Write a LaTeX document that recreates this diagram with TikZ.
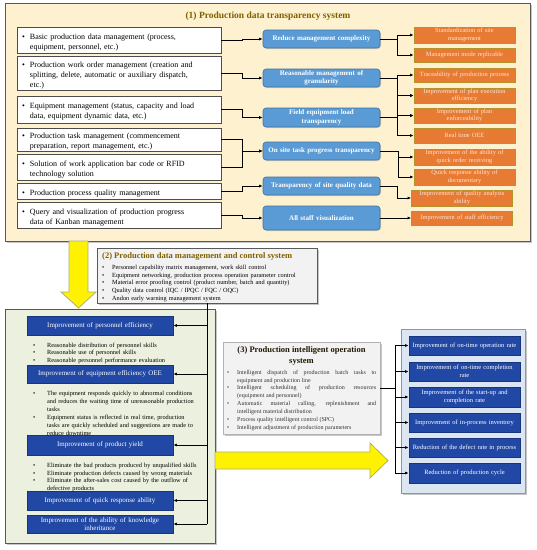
\documentclass[tikz,border=0pt]{standalone}
\usepackage{fontspec}
\setmainfont{Liberation Serif}
\usetikzlibrary{arrows.meta,shadows}
\definecolor{cream}{HTML}{FDF1D0}
\definecolor{titlebrown}{HTML}{7F6000}
\definecolor{midblue}{HTML}{5B9BD5}
\definecolor{midblueb}{HTML}{41719C}
\definecolor{orfill}{HTML}{E87B33}
\definecolor{orborder}{HTML}{B8902C}
\definecolor{ortext}{HTML}{FCE4D6}
\definecolor{greyfill}{HTML}{F2F2F2}
\definecolor{greenfill}{HTML}{EBF1DE}
\definecolor{darkblue}{HTML}{2148A4}
\definecolor{darkblueb}{HTML}{17357A}
\definecolor{paleblue}{HTML}{DCE6F2}
\definecolor{paleblueb}{HTML}{8497B0}
\definecolor{yelborder}{HTML}{A9B07A}
\definecolor{framegray}{HTML}{595959}
\newcommand{\myitem}[2]{\par\hangindent=#1\hangafter=1\noindent\makebox[#1][l]{\textbullet}#2\par}
\begin{document}
\begin{tikzpicture}[x=1pt,y=-1pt,
  >={Latex[length=3.5pt,width=3pt]},
  conn/.style={draw=black,line width=0.9pt},
  shad/.style={drop shadow={opacity=0.45,shadow xshift=2pt,shadow yshift=-2pt}},
  container/.style={draw=framegray,line width=0.9pt,inner sep=0pt,shad},
  itembox/.style={draw=gray!60!black,fill=white,line width=0.8pt,text width=194pt,inner xsep=5pt,inner ysep=0pt,align=left,font=\fontsize{8}{10}\selectfont},
  bluebox/.style={rounded corners=3pt,fill=midblue,draw=midblueb,line width=0.6pt,text=white,font=\fontsize{7}{8.5}\selectfont\bfseries,align=center,text width=110pt,inner xsep=3.5pt,inner ysep=0pt,drop shadow={opacity=0.3,shadow xshift=1pt,shadow yshift=-1pt}},
  orbox/.style={fill=orfill,draw=orborder,line width=0.7pt,text=ortext,font=\fontsize{6.4}{7.2}\selectfont,align=center,text width=97pt,inner xsep=2pt,inner ysep=0pt},
  dbox/.style={fill=darkblue,draw=darkblueb,line width=0.7pt,text=white,font=\fontsize{7}{8}\selectfont,align=center,text width=140pt,inner xsep=3pt,inner ysep=0pt,minimum height=19pt,drop shadow={opacity=0.3,shadow xshift=1pt,shadow yshift=-1pt}},
  rbox/.style={fill=darkblue,draw=darkblueb,line width=0.7pt,text=white,font=\fontsize{6.5}{7.6}\selectfont,align=center,text width=109pt,inner xsep=1pt,inner ysep=0pt,minimum height=19pt,drop shadow={opacity=0.3,shadow xshift=1pt,shadow yshift=-1pt}},
  bultext/.style={inner sep=0pt,align=left,anchor=north west},
  yarrow/.style={fill=yellow,draw=yelborder,line width=0.8pt}
]
\useasboundingbox (0,0) rectangle (537,550);

% ---------- (1) ----------
\node[container,fill=cream,minimum width=525pt,minimum height=238pt] (sys1) at (267.5,122) {};
\node[font=\fontsize{9.5}{11}\selectfont\bfseries,text=titlebrown] (t1) at (268,16) {(1) Production data transparency system};

\node[itembox,minimum height=26pt] (i1) at (119,40) {\myitem{8pt}{Basic production data management (process,\newline equipment, personnel, etc.)}};
\node[itembox,minimum height=34pt] (i2) at (119,73) {\myitem{8pt}{Production work order management (creation and\newline splitting, delete, automatic or auxiliary dispatch,\newline etc.)}};
\node[itembox,minimum height=27pt] (i3) at (119,109.5) {\myitem{8pt}{Equipment management (status, capacity and load\newline data, equipment dynamic data, etc.)}};
\node[itembox,minimum height=23pt] (i4) at (119,139.5) {\myitem{8pt}{Production task management (commencement\newline preparation, report management, etc.)}};
\node[itembox,minimum height=26pt] (i5) at (119,167) {\myitem{8pt}{Solution of work application bar code or RFID\newline technology solution}};
\node[itembox,minimum height=16pt] (i6) at (119,191) {\myitem{8pt}{Production process quality management}};
\node[itembox,minimum height=26pt] (i7) at (119,215) {\myitem{8pt}{Query and visualization of production progress\newline data of Kanban management}};

\node[bluebox,minimum height=18pt] (b1) at (321.5,39) {Reduce management complexity};
\node[bluebox,minimum height=18pt] (b2) at (321.5,78) {Reasonable management of\\granularity};
\node[bluebox,minimum height=19pt] (b3) at (321.5,117.5) {Field equipment load\\transparency};
\node[bluebox,minimum height=18pt] (b4) at (321.5,151) {On site task progress transparency};
\node[bluebox,minimum height=18pt] (b5) at (321.5,186) {Transparency of site quality data};
\node[bluebox,minimum height=24pt] (b6) at (321.5,218) {All staff visualization};

\node[orbox,minimum height=16pt] (o1) at (464.5,35) {Standardization of site\\management};
\node[orbox,minimum height=14pt] (o2) at (464.5,55) {Management mode replicable};
\node[orbox,minimum height=14pt] (o3) at (464.5,75) {Traceability of production process};
\node[orbox,minimum height=15pt] (o4) at (464.5,95.5) {Improvement of plan execution\\efficiency};
\node[orbox,minimum height=15pt] (o5) at (464.5,115.5) {Improvement of plan\\enforceability};
\node[orbox,minimum height=15pt] (o6) at (464.5,135.5) {Real time OEE};
\node[orbox,minimum height=16pt] (o7) at (464.5,157) {Improvement of the ability of\\quick order receiving};
\node[orbox,minimum height=16pt] (o8) at (464.5,177) {Quick response ability of\\documentary};
\node[orbox,minimum height=16pt] (o9) at (462,198) {Improvement of quality analysis\\ability};
\node[orbox,minimum height=14pt] (o10) at (462,218) {Improvement of staff efficiency};

% items -> blue
\draw[conn,->] (i1.east) -- ++(21,0) |- (b1.west);
\draw[conn,->] (i2.east) -- ++(21,0) |- (b2.west);
\draw[conn,->] (i3.east) -- ++(21,0) |- (b3.west);
\draw[conn,->] (i4.east) -- ++(21,0) |- (b4.west);
\draw[conn,->] (i5.east) -- ++(21,0) |- (b4.west);
\draw[conn,->] (i6.east) -- ++(21,0) |- (b5.west);
\draw[conn,->] (i7.east) -- ++(21,0) |- (b6.west);
% blue -> orange
\draw[conn,->] (b1.east) -- ++(17,0) |- (o1.west);
\draw[conn,->] (b1.east) -- ++(17,0) |- (o2.west);
\draw[conn,->] (b2.east) -- ++(17,0) |- (o3.west);
\draw[conn,->] (b2.east) -- ++(17,0) |- (o4.west);
\draw[conn,->] (b2.east) -- ++(17,0) |- (o5.west);
\draw[conn,->] (b3.east) -- ++(17,0) |- (o4.west);
\draw[conn,->] (b3.east) -- ++(17,0) |- (o5.west);
\draw[conn,->] (b3.east) -- ++(17,0) |- (o6.west);
\draw[conn,->] (b4.east) -- ++(18,0) |- (o7.west);
\draw[conn,->] (b4.east) -- ++(18,0) |- (o8.west);
\draw[conn,->] (b5.east) -- ++(17,0) |- (o9.west);
\draw[conn,->] (b6.east) -- (o10.west);

% yellow down arrow
\path[yarrow] (69,241) -- (88,241) -- (88,292) -- (96,292) -- (78.5,308) -- (61,292) -- (69,292) -- cycle;

% ---------- (2) ----------
\node[container,fill=greyfill,minimum width=220pt,minimum height=55pt] (sys2) at (207,275.5) {};
\node[anchor=west,inner sep=0pt,font=\fontsize{8.5}{10}\selectfont\bfseries,text=titlebrown] (t2) at (102,256) {(2) Production data management and control system};
\node[bultext,text width=212pt,font=\fontsize{6.3}{7.7}\selectfont] (l2) at (102,261.5) {%
\myitem{10pt}{Personnel capability matrix management, work skill control}%
\myitem{10pt}{Equipment networking, production process operation parameter control}%
\myitem{10pt}{Material error proofing control (product number, batch and quantity)}%
\myitem{10pt}{Quality data control (IQC / IPQC / FQC / OQC)}%
\myitem{10pt}{Andon early warning management system}};

% ---------- green ----------
\node[container,fill=greenfill,minimum width=210pt,minimum height=234pt] (gbox) at (110,426) {};
\node[dbox] (d1) at (100,325.5) {Improvement of personnel efficiency};
\node[dbox,minimum height=18pt] (d2) at (100,374) {Improvement of equipment efficiency OEE};
\node[dbox,minimum height=20pt] (d3) at (100,445) {Improvement of product yield};
\node[dbox] (d4) at (100,500.5) {Improvement of quick response ability};
\node[dbox,minimum height=18pt] (d5) at (100,524) {Improvement of the ability of knowledge\\inheritance};

\node[bultext,text width=170pt,font=\fontsize{6.3}{7.6}\selectfont] (g1) at (33,339.5) {%
\myitem{14pt}{Reasonable distribution of personnel skills}%
\myitem{14pt}{Reasonable use of personnel skills}%
\myitem{14pt}{Reasonable personnel performance evaluation}};
\node[bultext,text width=170pt,font=\fontsize{6.3}{8}\selectfont] (g2) at (33,387.5) {%
\myitem{14pt}{The equipment responds quickly to abnormal conditions\newline and reduces the waiting time of unreasonable production\newline tasks}%
\myitem{14pt}{Equipment status is reflected in real time, production\newline tasks are quickly scheduled and suggestions are made to\newline reduce downtime}};
\node[bultext,text width=170pt,font=\fontsize{6.3}{7.7}\selectfont] (g3) at (33,459.5) {%
\myitem{14pt}{Eliminate the bad products produced by unqualified skills}%
\myitem{14pt}{Eliminate production defects caused by wrong materials}%
\myitem{14pt}{Eliminate the after-sales cost caused by the outflow of\newline defective products}};

% (2) -> green boxes
\draw[conn] (sys2.south) -- (sys2.south |- d5.east);
\foreach \d in {d1,d2,d3,d4,d5}{\draw[conn,->] (sys2.south |- \d.east) -- (\d.east);}

% yellow right arrow
\path[yarrow] (215,452) -- (370,452) -- (370,443) -- (388,460.5) -- (370,478) -- (370,469) -- (215,469) -- cycle;

% ---------- (3) ----------
\node[container,fill=greyfill,draw=gray!60,minimum width=157pt,minimum height=92pt] (sys3) at (301.5,388) {};
\node[align=center,inner sep=0pt,font=\fontsize{8.5}{11}\selectfont\bfseries,text=black!75!titlebrown] (t3) at (301.5,355.5) {(3) Production intelligent operation\\system};
\node[bultext,text width=149pt,align=justify,font=\fontsize{6}{7.9}\selectfont,text=black!80] (l3) at (227,366) {%
\myitem{10pt}{Intelligent dispatch of production batch tasks to\linebreak equipment and production line}%
\myitem{10pt}{Intelligent scheduling of production resources\linebreak (equipment and personnel)}%
\myitem{10pt}{Automatic material calling, replenishment and\linebreak intelligent material distribution}%
\myitem{10pt}{Process quality intelligent control (SPC)}%
\myitem{10pt}{Intelligent adjustment of production parameters}};

% ---------- right ----------
\node[container,fill=paleblue,draw=paleblueb,minimum width=124pt,minimum height=164pt] (rcont) at (463,411) {};
\node[rbox] (r1) at (464.5,345.5) {Improvement of on-time operation rate};
\node[rbox] (r2) at (464.5,371.5) {Improvement of on-time completion\\rate};
\node[rbox,minimum height=20pt] (r3) at (464.5,397) {Improvement of the start-up and\\completion rate};
\node[rbox] (r4) at (464.5,422.5) {Improvement of in-process inventory};
\node[rbox] (r5) at (464.5,447.5) {Reduction of the defect rate in process};
\node[rbox,minimum height=20pt] (r6) at (464.5,473) {Reduction of production cycle};

\coordinate (bus3) at (395,388);
\draw[conn] (sys3.east) -- (bus3);
\draw[conn] (bus3 |- r1.west) -- (bus3 |- r6.west);
\foreach \r in {r1,r2,r3,r4,r5,r6}{\draw[conn,->] (bus3 |- \r.west) -- (\r.west);}
\end{tikzpicture}
\end{document}
